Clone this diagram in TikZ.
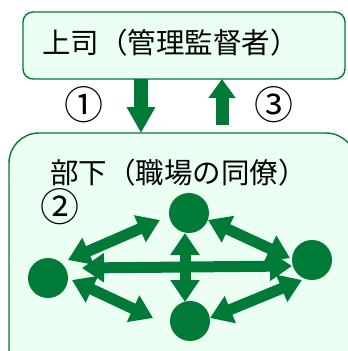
\documentclass[tikz,border=0pt]{standalone}
\usepackage{fontspec}
\setmainfont{Noto Sans CJK JP}
\usetikzlibrary{arrows.meta}
\definecolor{dg}{RGB}{0,122,55}
\definecolor{mint}{RGB}{235,255,243}
\tikzset{
  box/.style={draw=dg, line width=1.4pt, fill=mint},
  lbl/.style={anchor=west, inner sep=0pt, font=\fontsize{28.5}{29}\selectfont},
  num/.style={inner sep=0pt, font=\fontsize{39}{39}\selectfont},
  dot/.style={circle, fill=dg, minimum size=40pt, inner sep=0pt},
  dbl/.style={dg, line width=11pt, {Triangle[length=22pt,width=28pt]}-{Triangle[length=22pt,width=28pt]}}
}
\begin{document}
\begin{tikzpicture}[x=1pt,y=-1pt]
\useasboundingbox (0,0) rectangle (348,351);
\begin{scope}
\clip (0,0) rectangle (348,351);
% boxes
\draw[box, rounded corners=10pt] (23,12) rectangle (345,79);
\node[lbl] (boss) at (42,43) {上司（管理監督者）};
\draw[box, rounded corners=30pt] (9,133) rectangle (356,380);
\node[lbl] (sub) at (50,173) {部下（職場の同僚）};
\end{scope}
% coordinates
\coordinate (dtop) at (141,79);
\coordinate (dbot) at (141,133);
\coordinate (utop) at (222,79);
\coordinate (ubot) at (222,125);
\draw[dg, line width=14pt, -{Triangle[length=26pt,width=27pt]}] (dtop) -- (dbot);
\draw[dg, line width=13pt, -{Triangle[length=19pt,width=26pt]}] (ubot) -- (utop);
\node[num] (n1) at (84,105) {①};
\node[num] (n3) at (274,105) {③};
\node[num] (n2) at (60,207) {②};
% people
\node[dot] (T) at (189,213) {};
\node[dot] (L) at (48,278) {};
\node[dot] (R) at (312,260) {};
\node[dot] (B) at (190,321) {};
% arrow ends
\coordinate (a1) at (68,260); \coordinate (a2) at (160,220);
\coordinate (b1) at (208,220); \coordinate (b2) at (290,258);
\coordinate (c1) at (82,268); \coordinate (c2) at (292,266);
\coordinate (d1) at (185,233); \coordinate (d2) at (185,302);
\coordinate (e1) at (72,280); \coordinate (e2) at (153,318);
\coordinate (f1) at (210,318); \coordinate (f2) at (302,280);
\draw[dbl] (a1) -- (a2);
\draw[dbl] (b1) -- (b2);
\draw[dbl] (c1) -- (c2);
\draw[dbl] (d1) -- (d2);
\draw[dbl] (e1) -- (e2);
\draw[dbl] (f1) -- (f2);
\end{tikzpicture}
\end{document}
